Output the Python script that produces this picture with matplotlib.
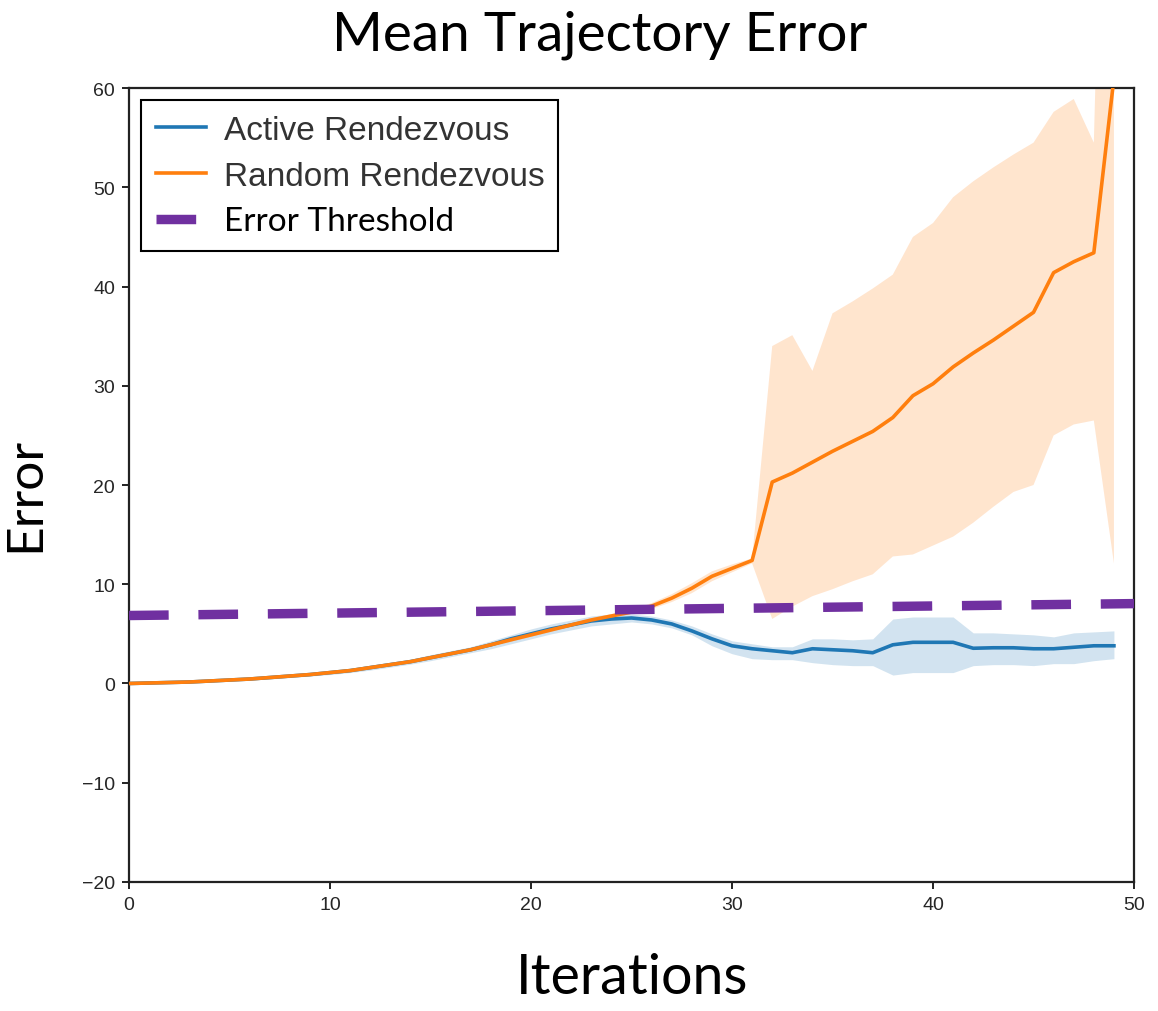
import matplotlib
matplotlib.use("Agg")
import matplotlib.pyplot as plt
from matplotlib.lines import Line2D
import numpy as np

# ---------------- data ----------------
iterations = list(range(50))

active_mean = [0.0, 0.05, 0.1, 0.15, 0.25, 0.35, 0.45, 0.6, 0.75, 0.9,
               1.1, 1.3, 1.6, 1.9, 2.2, 2.6, 3.0, 3.4, 3.9, 4.5,
               5.0, 5.5, 5.9, 6.3, 6.5, 6.6, 6.4, 6.0, 5.3, 4.5,
               3.8, 3.5, 3.3, 3.1, 3.5, 3.4, 3.3, 3.1, 3.9, 4.15,
               4.15, 4.15, 3.55, 3.6, 3.6, 3.5, 3.5, 3.65, 3.8, 3.8]
active_lo = [0.0, 0.0, 0.05, 0.1, 0.15, 0.25, 0.35, 0.45, 0.6, 0.75,
             0.9, 1.1, 1.35, 1.65, 1.95, 2.3, 2.7, 3.1, 3.5, 4.0,
             4.5, 5.0, 5.4, 5.8, 6.0, 6.2, 6.0, 5.6, 4.9, 3.8,
             3.0, 2.5, 2.4, 2.4, 2.1, 1.9, 1.8, 1.8, 0.85, 1.1,
             1.1, 1.1, 1.8, 1.9, 1.9, 1.8, 2.0, 2.0, 2.3, 2.5]
active_hi = [0.1, 0.1, 0.15, 0.2, 0.35, 0.45, 0.55, 0.75, 0.9, 1.05,
             1.3, 1.5, 1.85, 2.15, 2.45, 2.9, 3.3, 3.7, 4.3, 4.9,
             5.5, 6.0, 6.4, 6.8, 7.0, 7.0, 6.8, 6.4, 5.8, 5.0,
             4.3, 4.0, 3.7, 3.7, 4.5, 4.5, 4.4, 4.5, 6.5, 6.7,
             6.7, 6.7, 5.1, 5.1, 5.0, 4.9, 4.7, 5.1, 5.2, 5.3]

random_mean = [0.0, 0.05, 0.1, 0.15, 0.25, 0.35, 0.45, 0.6, 0.75, 0.9,
               1.1, 1.3, 1.6, 1.9, 2.2, 2.6, 3.0, 3.4, 3.9, 4.4,
               4.9, 5.4, 5.9, 6.4, 6.8, 7.2, 7.8, 8.6, 9.6, 10.8,
               11.6, 12.4, 20.3, 21.2, 22.3, 23.4, 24.4, 25.4, 26.8, 29.0,
               30.2, 31.9, 33.3, 34.6, 36.0, 37.4, 41.4, 42.5, 43.4, 61.0]
random_lo = [0.0, 0.0, 0.05, 0.1, 0.2, 0.3, 0.4, 0.55, 0.7, 0.85,
             1.0, 1.2, 1.5, 1.8, 2.1, 2.5, 2.9, 3.3, 3.7, 4.2,
             4.7, 5.2, 5.7, 6.2, 6.6, 7.0, 7.5, 8.2, 9.1, 10.3,
             11.2, 12.1, 6.5, 7.75, 8.8, 9.5, 10.3, 11.0, 12.8, 13.0,
             13.9, 14.8, 16.2, 17.8, 19.3, 20.0, 25.0, 26.1, 26.5, 12.1]
random_hi = [0.05, 0.1, 0.15, 0.2, 0.3, 0.4, 0.5, 0.65, 0.8, 0.95,
             1.2, 1.4, 1.7, 2.0, 2.3, 2.7, 3.1, 3.5, 4.1, 4.6,
             5.1, 5.6, 6.1, 6.6, 7.0, 7.4, 8.1, 9.0, 10.1, 11.3,
             12.0, 12.6, 34.0, 35.1, 31.5, 37.3, 38.5, 39.8, 41.2, 45.0,
             46.4, 49.0, 50.6, 52.0, 53.3, 54.5, 57.6, 58.9, 54.5, 130.0]

threshold_x = [0, 50]
threshold_y = [6.85, 8.05]

x_ticks = [0, 10, 20, 30, 40, 50]
y_ticks = [-20, -10, 0, 10, 20, 30, 40, 50, 60]

title = "Mean Trajectory Error"
x_label = "Iterations"
y_label = "Error"
labels = ["Active Rendezvous", "Random Rendezvous", "Error Threshold"]

# ---------------- style ----------------
BLUE = "#1f77b4"
ORANGE = "#ff7f0e"
PURPLE = "#7030a0"
CAL = ["Lato", "DejaVu Sans"]
ARIAL = ["Liberation Sans", "DejaVu Sans"]

fig = plt.figure(figsize=(11.58, 10.12), dpi=100)
ax = fig.add_axes([0.1114, 0.1275, 0.8679, 0.7845])

ax.fill_between(iterations, active_lo, active_hi, color=BLUE, alpha=0.2, lw=0)
ax.fill_between(iterations, random_lo, random_hi, color=ORANGE, alpha=0.2, lw=0)
l1, = ax.plot(iterations, active_mean, color=BLUE, lw=2.6, zorder=3)
l2, = ax.plot(iterations, random_mean, color=ORANGE, lw=2.6, zorder=4)
l3, = ax.plot(threshold_x, threshold_y, color=PURPLE, lw=6.8,
              dashes=(4.2, 3.15), dash_capstyle="butt", zorder=5)

ax.set_xlim(0, 50)
ax.set_ylim(-20, 60)
ax.set_xticks(x_ticks)
ax.set_yticks(y_ticks)
ax.set_yticklabels([("\u2212%d" % -v) if v < 0 else str(v) for v in y_ticks])
for lab in ax.get_xticklabels() + ax.get_yticklabels():
    lab.set_family(ARIAL)
    lab.set_fontsize(14)
    lab.set_color("#262626")
ax.tick_params(direction="out", length=5, width=1.4, color="#222222", pad=5)
for s in ax.spines.values():
    s.set_linewidth(1.6)
    s.set_color("#222222")

leg_l1 = Line2D([], [], color=BLUE, lw=2.6)
leg_l2 = Line2D([], [], color=ORANGE, lw=2.6)
leg = ax.legend([leg_l1, leg_l2, l3], labels, loc="upper left",
                bbox_to_anchor=(0.0119, 0.0, 0.415, 0.985), mode="expand",
                borderaxespad=0,
                prop={"family": ARIAL, "size": 24},
                handlelength=1.5, handletextpad=0.55, labelspacing=0.44,
                borderpad=0.45, fancybox=False, framealpha=1,
                edgecolor="black")
leg.get_frame().set_linewidth(1.5)
texts = leg.get_texts()
for t in texts[:2]:
    t.set_color("#333333")
texts[2].set_family(CAL)
texts[2].set_fontsize(24)
texts[2].set_color("black")

fig.text(0.518, 0.965, title, family=CAL, fontsize=39.5, ha="center", va="center")
fig.text(0.5458, 0.033, x_label, family=CAL, fontsize=40, ha="center", va="center")
fig.text(0.022, 0.511, y_label, family=CAL, fontsize=37, ha="center", va="center",
         rotation=90)

fig.savefig("out.png", dpi=100)
